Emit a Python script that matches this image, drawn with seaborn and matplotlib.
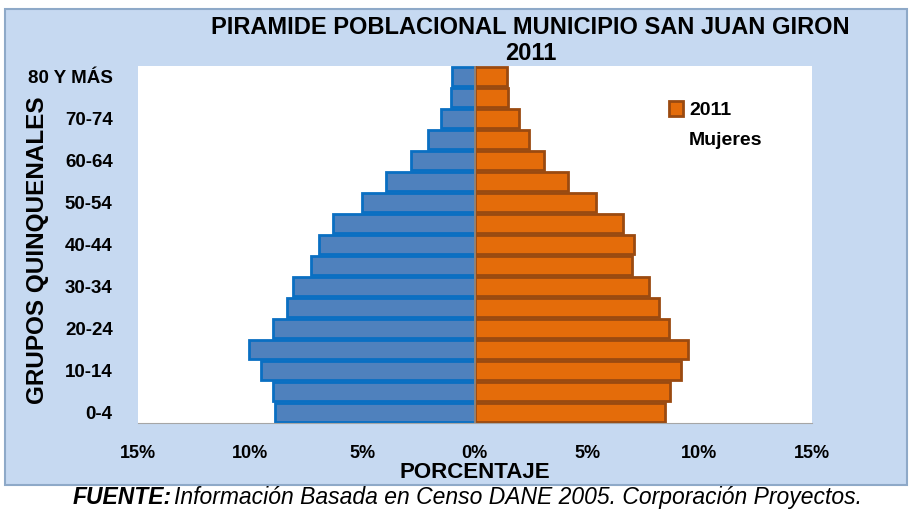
import numpy as np
import pandas as pd
import matplotlib.pyplot as plt
import seaborn as sns
from matplotlib.patches import Rectangle, Patch

# grupos de edad (de abajo hacia arriba)
grupos = ['0-4', '5-9', '10-14', '15-19', '20-24', '25-29', '30-34', '35-39',
          '40-44', '45-49', '50-54', '55-59', '60-64', '65-69', '70-74', '75-79',
          '80 Y MÁS']
hombres = [8.9, 9.0, 9.5, 10.05, 9.0, 8.35, 8.1, 7.3, 6.95, 6.3, 5.0, 3.95,
           2.85, 2.1, 1.5, 1.05, 1.0]
mujeres = [8.45, 8.7, 9.2, 9.5, 8.65, 8.2, 7.75, 7.0, 7.1, 6.6, 5.4, 4.15,
           3.1, 2.4, 1.95, 1.5, 1.43]
xticks = [-15, -10, -5, 0, 5, 10, 15]

sns.set_style('white')
plt.rcParams['font.family'] = ['Liberation Sans', 'DejaVu Sans']
plt.rcParams['text.color'] = 'black'
plt.rcParams['axes.labelcolor'] = 'black'
plt.rcParams['xtick.labelcolor'] = 'black'
plt.rcParams['ytick.labelcolor'] = 'black'

data = pd.DataFrame({'grupo': grupos, 'hombres': [-h for h in hombres], 'mujeres': mujeres})
orden = grupos[::-1]

fig = plt.figure(figsize=(9.12, 5.12), dpi=100)
fig.patch.set_facecolor('white')
fondo = Rectangle((5 / 912, 27 / 512), 902 / 912, 476 / 512,
                  transform=fig.transFigure, facecolor='#C6D9F1',
                  edgecolor='#8EA9C8', linewidth=1.5, zorder=-10)
fig.patches.append(fondo)

ax = fig.add_axes([0.151, 0.174, 0.739, 0.697])
ax.set_facecolor('white')

sns.barplot(data=data, x='hombres', y='grupo', order=orden, orient='h',
            color='#4F81BD', saturation=1, edgecolor='#0A6FC2', linewidth=2,
            width=0.93, ax=ax)
sns.barplot(data=data, x='mujeres', y='grupo', order=orden, orient='h',
            color='#E46C0A', saturation=1, edgecolor='#9A4A10', linewidth=2,
            width=0.93, ax=ax)

ax.set_xlim(-15, 15)
ax.set_ylim(16.5, -0.5)
ax.set_xticks(xticks)
ax.set_xticklabels([f'{abs(t)}%' for t in xticks], fontsize=13, fontweight='bold')
ypos = [orden.index(g) for g in grupos[::2]]
ax.set_yticks(ypos)
ax.set_yticklabels(grupos[::2], fontsize=13.5, fontweight='bold')
ax.tick_params(axis='x', length=5, color='#A6A6A6', pad=11)
ax.tick_params(axis='y', length=0, pad=18)
ax.axvline(0, color='#8C8C8C', linewidth=1.2, zorder=5)
for s in ax.spines.values():
    s.set_visible(False)
ax.spines['bottom'].set_visible(True)
ax.spines['bottom'].set_color('#A6A6A6')

ax.set_xlabel('PORCENTAJE', fontsize=16, fontweight='bold', labelpad=0)
ax.set_ylabel('')
fig.text(38 / 912, 0.512, 'GRUPOS QUINQUENALES', rotation=90, ha='center',
         va='center', fontsize=17.5, fontweight='bold')

leg = ax.legend(handles=[Patch(facecolor='#E46C0A', edgecolor='#9A4A10', linewidth=2,
                               label='2011')],
                loc='upper left', bbox_to_anchor=(0.762, 0.95), frameon=False,
                prop={'size': 14, 'weight': 'bold'}, handlelength=0.75,
                handleheight=0.75, handletextpad=0.3)
ax.text(0.817, 0.79, 'Mujeres', transform=ax.transAxes, ha='left', va='center',
        fontsize=14, fontweight='bold')

fig.text(0.582, 0.968, 'PIRAMIDE POBLACIONAL MUNICIPIO SAN JUAN GIRON\n2011',
         ha='center', va='top', fontsize=17, fontweight='bold', linespacing=1.15)

fig.text(0.188, 0.028, 'FUENTE:', ha='right', va='center', fontsize=16.5,
         fontweight='bold', style='italic')
fig.text(0.191, 0.028, 'Información Basada en Censo DANE 2005. Corporación Proyectos.',
         ha='left', va='center', fontsize=16.5, style='italic')

fig.savefig('out.png', dpi=100, facecolor=fig.get_facecolor())
